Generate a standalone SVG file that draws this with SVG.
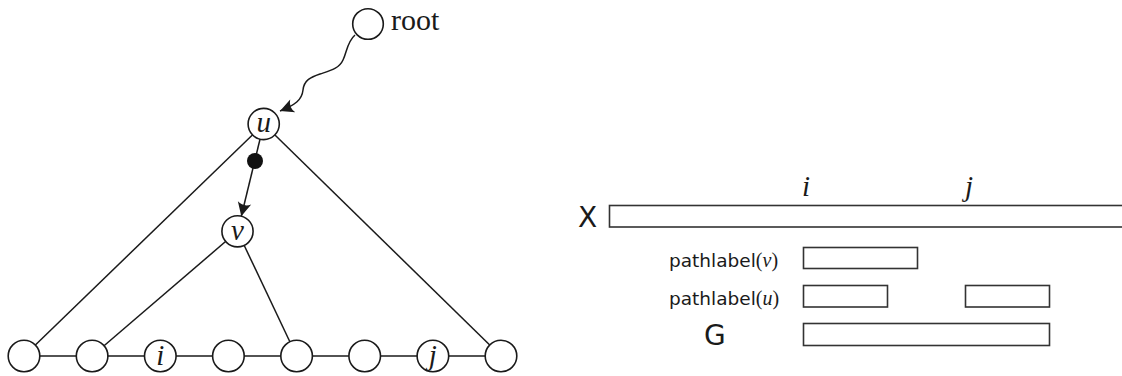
<svg xmlns="http://www.w3.org/2000/svg" width="1122" height="376" viewBox="0 0 1122 376">
<style>
.nd{fill:#fff;stroke:#1a1a1a;stroke-width:1.6}
.ln{fill:none;stroke:#1a1a1a;stroke-width:1.5}
.m{font-family:"Liberation Serif","Times New Roman",serif;font-style:italic;font-size:29px;fill:#1a1a1a;text-anchor:middle}
.bar{fill:#fff;stroke:#333;stroke-width:1.6}
.sans{font-family:"DejaVu Sans",Verdana,sans-serif;fill:#1a1a1a}
.ser{font-family:"Liberation Serif","Times New Roman",serif}
</style>
<defs>
<marker id="ah" markerUnits="userSpaceOnUse" markerWidth="16" markerHeight="16" viewBox="-13 -7 14 14" refX="0" refY="0" orient="auto">
<path d="M0,0 L-12,-6 Q-8,0 -12,6 Z" fill="#1a1a1a"/>
</marker>
</defs>
<g id="connectors">
<path class="ln" d="M355,35 C347,42 347,52 343,60 C339,69 329,71 320,74 C311,77 304,80 303,90 C302,100 295,105 280,111" marker-end="url(#ah)"/>
<line class="ln" x1="263.7" y1="124" x2="241.3" y2="216.3" marker-end="url(#ah)"/>
<circle cx="255" cy="161" r="8" fill="#111"/>
<line class="ln" x1="263.7" y1="124" x2="24" y2="356"/>
<line class="ln" x1="263.7" y1="124" x2="501" y2="356"/>
<line class="ln" x1="237.5" y1="231.3" x2="92.1" y2="356"/>
<line class="ln" x1="237.5" y1="231.3" x2="296.6" y2="356"/>
<line class="ln" x1="24" y1="356" x2="501" y2="356"/>
</g>
<g id="root"><circle class="nd" cx="368" cy="24" r="15.3"/><text class="ser" x="391" y="30" font-size="30" fill="#1a1a1a">root</text></g>
<g id="u"><circle class="nd" cx="263.7" cy="124" r="15.6"/><text class="m" x="263.7" y="132">u</text></g>
<g id="v"><circle class="nd" cx="237.5" cy="231.3" r="15.6"/><text class="m" x="237.5" y="240">v</text></g>
<g id="n1"><circle class="nd" cx="24" cy="356" r="15.8"/></g>
<g id="n2"><circle class="nd" cx="92.1" cy="356" r="15.8"/></g>
<g id="n3"><circle class="nd" cx="160.3" cy="356" r="15.8"/><text class="m" x="160.3" y="365">i</text></g>
<g id="n4"><circle class="nd" cx="228.4" cy="356" r="15.8"/></g>
<g id="n5"><circle class="nd" cx="296.6" cy="356" r="15.8"/></g>
<g id="n6"><circle class="nd" cx="364.7" cy="356" r="15.8"/></g>
<g id="n7"><circle class="nd" cx="432.9" cy="356" r="15.8"/><text class="m" x="432.9" y="365">j</text></g>
<g id="n8"><circle class="nd" cx="501" cy="356" r="15.8"/></g>
<g id="X">
<text class="sans" x="578" y="227" font-size="28">X</text>
<rect class="bar" x="609.5" y="205.5" width="530" height="21.5"/>
<text class="m" x="806" y="196" font-size="25">i</text>
<text class="m" x="969" y="196" font-size="25">j</text>
</g>
<g id="pv">
<text class="sans" x="669" y="267" font-size="18.5">pathlabel<tspan class="ser" font-size="20">(<tspan font-style="italic">v</tspan>)</tspan></text>
<rect class="bar" x="803.5" y="247.5" width="114" height="21"/>
</g>
<g id="pu">
<text class="sans" x="669" y="305" font-size="18.5">pathlabel<tspan class="ser" font-size="20">(<tspan font-style="italic">u</tspan>)</tspan></text>
<rect class="bar" x="803.5" y="285.5" width="84" height="21.5"/>
<rect class="bar" x="965.5" y="285.5" width="84" height="21.5"/>
</g>
<g id="G">
<text class="sans" x="704" y="345" font-size="28">G</text>
<rect class="bar" x="803.5" y="323.5" width="246" height="22"/>
</g>
</svg>
